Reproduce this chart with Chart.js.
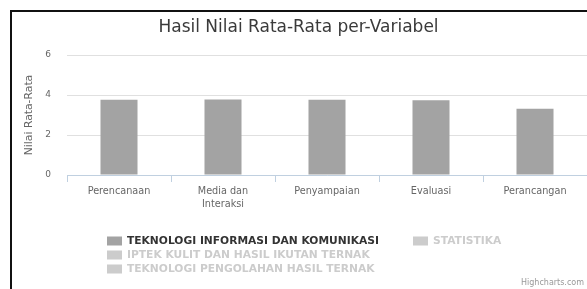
<!DOCTYPE html>
<html>
<head>
  <script src="https://cdn.jsdelivr.net/npm/chart.js@4.4.1/dist/chart.umd.min.js"></script>
  <style>
    html, body { margin: 0; padding: 0; background: #fff; overflow: hidden; }
    #wrap { position: relative; width: 587px; height: 289px; }
    #frame {
      position: absolute; left: 10px; top: 10px; width: 620px; height: 320px;
      border: 2px solid #111; box-sizing: border-box; pointer-events: none;
    }
    canvas { position: absolute; left: 0; top: 0; }
  </style>
</head>
<body>
<div id="wrap">
  <canvas id="myBarChart" width="587" height="289"></canvas>
  <div id="frame"></div>
</div>

<script>
// data
var categories = ['Perencanaan', ['Media dan', 'Interaksi'], 'Penyampaian', 'Evaluasi', 'Perancangan']
var seriesNames = [
  'TEKNOLOGI INFORMASI DAN KOMUNIKASI',
  'STATISTIKA',
  'IPTEK KULIT DAN HASIL IKUTAN TERNAK',
  'TEKNOLOGI PENGOLAHAN HASIL TERNAK'
]
var tikValues = [3.76, 3.77, 3.76, 3.74, 3.31]
// the other three series are switched off in the picture, their values can't be read
var statistikaValues = []
var iptekValues = []
var tphtValues = []
var yTicks = [0, 2, 4, 6]

var barColor = '#a3a3a3'
var hiddenColor = '#cccccc'

var font = 'DejaVu Sans'

// legend laid out like the original: items wrap into rows, left aligned
var legendPlugin = {
  id: 'hcLegend',
  afterDraw: function (chart) {
    var ctx = chart.ctx
    var rows = [[0, 1], [2], [3]]
    var cols = [107, 413]
    var rowY = [241, 255, 269]
    ctx.save()
    ctx.textBaseline = 'middle'
    ctx.font = 'bold 10.7px ' + font
    rows.forEach(function (row, r) {
      row.forEach(function (di, c) {
        var visible = chart.isDatasetVisible(di)
        var x = cols[c], y = rowY[r]
        ctx.fillStyle = visible ? barColor : hiddenColor
        ctx.fillRect(x, y - 4.5, 15, 9)
        ctx.fillStyle = visible ? '#333333' : hiddenColor
        ctx.fillText(chart.data.datasets[di].label, x + 20, y + 0.5)
      })
    })
    ctx.font = '8px ' + font
    ctx.fillStyle = '#999999'
    ctx.textAlign = 'right'
    ctx.fillText('Highcharts.com', 584, 283)
    ctx.restore()
  }
}

var data = {
  labels: categories,
  datasets: [
    { label: seriesNames[0], data: tikValues, backgroundColor: barColor },
    { label: seriesNames[1], data: statistikaValues, backgroundColor: barColor, hidden: true },
    { label: seriesNames[2], data: iptekValues, backgroundColor: barColor, hidden: true },
    { label: seriesNames[3], data: tphtValues, backgroundColor: barColor, hidden: true }
  ]
}

var ctx = document.getElementById('myBarChart').getContext('2d')
var myBarChart = new Chart(ctx, {
  type: 'bar',
  data: data,
  plugins: [legendPlugin],
  options: {
    responsive: false,
    animation: false,
    devicePixelRatio: 1,
    layout: { padding: { left: 10, right: 0, top: 0, bottom: 74 } },
    datasets: { bar: { categoryPercentage: 0.8, barPercentage: 0.445 } },
    plugins: {
      legend: { display: false },
      tooltip: { enabled: false },
      title: {
        display: true,
        text: 'Hasil Nilai Rata-Rata per-Variabel',
        color: '#3a3a3a',
        font: { family: font, size: 17, weight: 'normal', lineHeight: 1.2 },
        padding: { top: 17, bottom: 17.6 }
      }
    },
    scales: {
      x: {
        afterFit: function (scale) { scale.height = 40 },
        grid: { drawOnChartArea: false, tickLength: 7, color: '#c0d0e0', offset: true },
        border: { color: '#c0d0e0' },
        ticks: {
          padding: 3,
          color: '#666666',
          maxRotation: 0,
          autoSkip: false,
          font: { family: font, size: 9.7, lineHeight: 1.35 }
        }
      },
      y: {
        min: 0,
        max: 6,
        afterFit: function (scale) { scale.width = 57 },
        afterBuildTicks: function (scale) {
          scale.ticks = yTicks.map(function (v) { return { value: v } })
        },
        grid: { color: '#e0e0e0', drawTicks: false },
        border: { display: false },
        ticks: {
          padding: 16,
          color: '#666666',
          font: { family: font, size: 9 }
        },
        title: {
          display: true,
          text: 'Nilai Rata-Rata',
          color: '#666666',
          font: { family: font, size: 10.8, lineHeight: 1.2 },
          padding: { top: 13, bottom: 0 }
        }
      }
    }
  }
})
window.myBarChart = myBarChart
</script>
</body>
</html>
